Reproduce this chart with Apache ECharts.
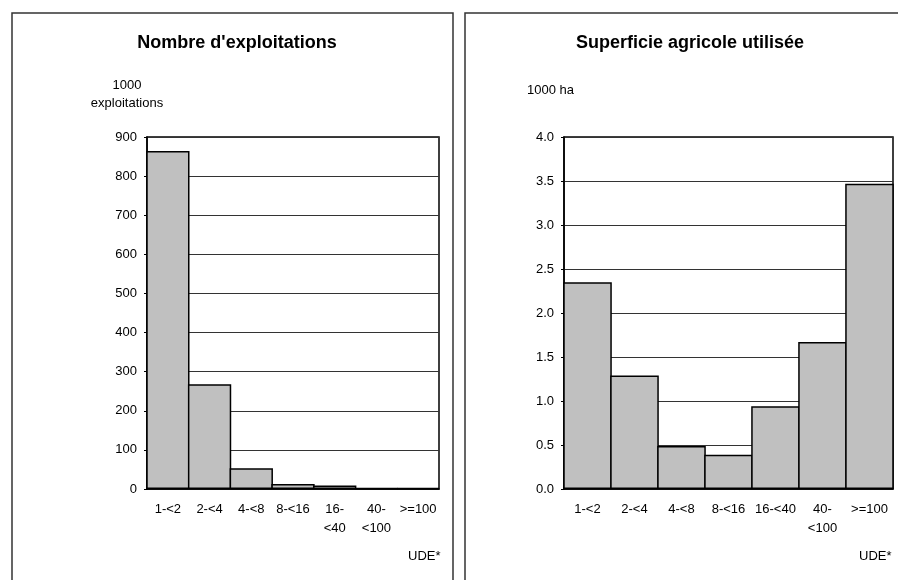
<!DOCTYPE html>
<html>
<head>
<meta charset="utf-8">
<script src="https://cdn.jsdelivr.net/npm/echarts@6/dist/echarts.min.js"></script>
<style>
html,body{margin:0;padding:0;background:#fff;}
#chart{width:898px;height:580px;}
</style>
</head>
<body>
<div id="chart"></div>
<script>
// Data
var categoriesLeft = ['1-<2', '2-<4', '4-<8', '8-<16', '16-\n<40', '40-\n<100', '>=100'];
var categoriesRight = ['1-<2', '2-<4', '4-<8', '8-<16', '16-<40', '40-\n<100', '>=100'];
var exploitations = [864, 268, 53, 13, 9, 3, 3];
var superficie = [2.35, 1.29, 0.49, 0.39, 0.94, 1.67, 3.47];
var titleLeft = "Nombre d'exploitations";
var titleRight = "Superficie agricole utilisée";
var unitLeft = "1000\nexploitations";
var unitRight = "1000 ha";
var xUnit = "UDE*";

var FONT = 'Liberation Sans, Arial, sans-serif';
var chart = echarts.init(document.getElementById('chart'));

var GRID_L = {left: 147, top: 137, width: 292, height: 352};
var GRID_R = {left: 564, top: 137, width: 329, height: 352};

function yAxisCfg(gridIndex, max, interval, fmt) {
  return {
    type: 'value', gridIndex: gridIndex, min: 0, max: max, interval: interval,
    axisLine: {show: true, lineStyle: {color: '#000', width: 1.5}},
    axisTick: {show: true, length: 3, lineStyle: {color: '#000'}},
    axisLabel: {color: '#000', fontSize: 13, fontFamily: FONT, margin: 10, formatter: fmt},
    splitLine: {show: true, lineStyle: {color: '#333', width: 1}}
  };
}
function xAxisCfg(gridIndex, cats) {
  return {
    type: 'category', gridIndex: gridIndex, data: cats,
    axisLine: {show: true, lineStyle: {color: '#000', width: 1.5}},
    axisTick: {show: false},
    axisLabel: {color: '#000', fontSize: 13, fontFamily: FONT, margin: 11, interval: 0, lineHeight: 19}
  };
}
function barSeries(idx, data, bandPx) {
  return {
    type: 'bar', xAxisIndex: idx, yAxisIndex: idx, data: data,
    barCategoryGap: '0%', barGap: '0%', barWidth: bandPx + 1.6, z: 3,
    itemStyle: {color: '#c0c0c0', borderColor: '#000', borderWidth: 1.5}
  };
}

chart.setOption({
  animation: false,
  backgroundColor: '#fff',
  title: [
    {text: titleLeft, left: 232, top: 29, textAlign: 'center',
     textStyle: {fontSize: 18, fontWeight: 'bold', fontFamily: FONT, color: '#000'}},
    {text: titleRight, left: 685, top: 29, textAlign: 'center',
     textStyle: {fontSize: 18, fontWeight: 'bold', fontFamily: FONT, color: '#000'}},
    {text: unitLeft, left: 122, top: 71, textAlign: 'center',
     textStyle: {fontSize: 13, fontWeight: 'normal', fontFamily: FONT, color: '#000', lineHeight: 18}},
    {text: unitRight, left: 522, top: 79,
     textStyle: {fontSize: 13, fontWeight: 'normal', fontFamily: FONT, color: '#000'}},
    {text: xUnit, left: 403, top: 545,
     textStyle: {fontSize: 13, fontWeight: 'normal', fontFamily: FONT, color: '#000'}},
    {text: xUnit, left: 854, top: 545,
     textStyle: {fontSize: 13, fontWeight: 'normal', fontFamily: FONT, color: '#000'}}
  ],
  graphic: [
    {type: 'rect', shape: {x: 12, y: 13, width: 441, height: 600}, style: {fill: 'none', stroke: '#333', lineWidth: 1.5}, z: -1},
    {type: 'rect', shape: {x: 465, y: 13, width: 460, height: 600}, style: {fill: 'none', stroke: '#333', lineWidth: 1.5}, z: -1}
  ],
  grid: [
    Object.assign({show: true, borderColor: '#000', borderWidth: 1.5, backgroundColor: 'transparent'}, GRID_L),
    Object.assign({show: true, borderColor: '#000', borderWidth: 1.5, backgroundColor: 'transparent'}, GRID_R)
  ],
  xAxis: [xAxisCfg(0, categoriesLeft), xAxisCfg(1, categoriesRight)],
  yAxis: [
    yAxisCfg(0, 900, 100, function (v) { return String(v); }),
    yAxisCfg(1, 4, 0.5, function (v) { return v.toFixed(1); })
  ],
  series: [
    barSeries(0, exploitations, GRID_L.width / categoriesLeft.length),
    barSeries(1, superficie, GRID_R.width / categoriesRight.length)
  ]
});
</script>
</body>
</html>
